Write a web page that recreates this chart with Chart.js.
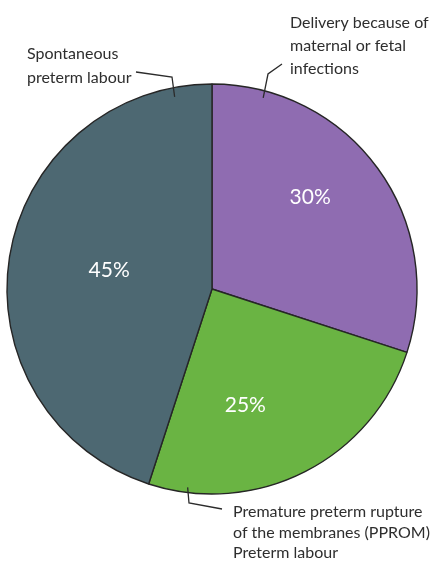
<!DOCTYPE html>
<html>
<head>
<meta charset="utf-8">
<script src="https://cdn.jsdelivr.net/npm/chart.js@4/dist/chart.umd.min.js"></script>
<style>
  html, body { margin: 0; padding: 0; background: #ffffff; }
  #wrap { position: relative; width: 430px; height: 562px; }
</style>
</head>
<body>
<div id="wrap"><canvas id="pie"></canvas></div>
<script>
// Causes of preterm birth (share of all preterm births, %)
const categories = [
  'Delivery because of maternal or fetal infections',
  'Premature preterm rupture of the membranes (PPROM) Preterm labour',
  'Spontaneous preterm labour'
];
const shares = [30, 25, 45];
const sliceColors = ['#8f6cb1', '#6ab443', '#4d6872'];

// Outside labels, one line per entry
const outsideLabels = [
  ['Delivery because of', 'maternal or fetal', 'infections'],
  ['Premature preterm rupture', 'of the membranes (PPROM)', 'Preterm labour'],
  ['Spontaneous', 'preterm labour']
];

const FONT = 'Lato, "Open Sans", sans-serif';

// Placement of in-slice percentages and callouts
const pctPlace = [ { deg: 47, r: 0.655 }, { deg: 164, r: 0.59 }, { deg: 280.5, r: 0.51 } ];
const callouts = [
  { anchorDeg: 15,  anchorR: 0.965, elbow: [268, 74],  start: [282, 64],
    text: [290, 23], lineH: 23 },
  { anchorDeg: 187, anchorR: 0.975, elbow: [189, 503], start: [222, 509],
    text: [233, 512], lineH: 20.5 },
  { anchorDeg: -11, anchorR: 0.955, elbow: [172, 77],  start: [136, 72],
    text: [27, 54], lineH: 24 }
];

const labelPlugin = {
  id: 'sliceLabels',
  afterDatasetsDraw(chart) {
    const ctx = chart.ctx;
    const meta = chart.getDatasetMeta(0);
    meta.data.forEach((arc, i) => {
      const { x, y, outerRadius } = arc.getProps(['x', 'y', 'outerRadius'], true);
      // percentage inside the slice
      const p = pctPlace[i];
      const a = (p.deg - 90) * Math.PI / 180;
      ctx.save();
      ctx.fillStyle = '#ffffff';
      ctx.font = '21px ' + FONT;
      ctx.textAlign = 'center';
      ctx.textBaseline = 'middle';
      ctx.fillText(shares[i] + '%', x + Math.cos(a) * outerRadius * p.r, y + Math.sin(a) * outerRadius * p.r);
      ctx.restore();

      // callout line and text
      const c = callouts[i];
      const b = (c.anchorDeg - 90) * Math.PI / 180;
      const ax = x + Math.cos(b) * outerRadius * c.anchorR;
      const ay = y + Math.sin(b) * outerRadius * c.anchorR;
      ctx.save();
      ctx.strokeStyle = '#2b2b2b';
      ctx.lineWidth = 1.3;
      ctx.beginPath();
      ctx.moveTo(c.start[0], c.start[1]);
      ctx.lineTo(c.elbow[0], c.elbow[1]);
      ctx.lineTo(ax, ay);
      ctx.stroke();
      ctx.fillStyle = '#2e2e2e';
      ctx.font = '16px ' + FONT;
      ctx.textAlign = 'left';
      ctx.textBaseline = 'middle';
      outsideLabels[i].forEach((line, k) => {
        ctx.fillText(line, c.text[0], c.text[1] + k * c.lineH);
      });
      ctx.restore();
    });
  }
};

new Chart(document.getElementById('pie'), {
  type: 'pie',
  data: {
    labels: categories,
    datasets: [{
      data: shares,
      backgroundColor: sliceColors,
      borderColor: '#262626',
      borderWidth: 1.4,
      radius: 205
    }]
  },
  options: {
    responsive: true,
    maintainAspectRatio: false,
    animation: false,
    layout: { padding: { left: 0, right: 6, top: 16, bottom: 0 } },
    plugins: {
      legend: { display: false },
      tooltip: { enabled: false }
    }
  },
  plugins: [labelPlugin]
});
</script>
</body>
</html>
